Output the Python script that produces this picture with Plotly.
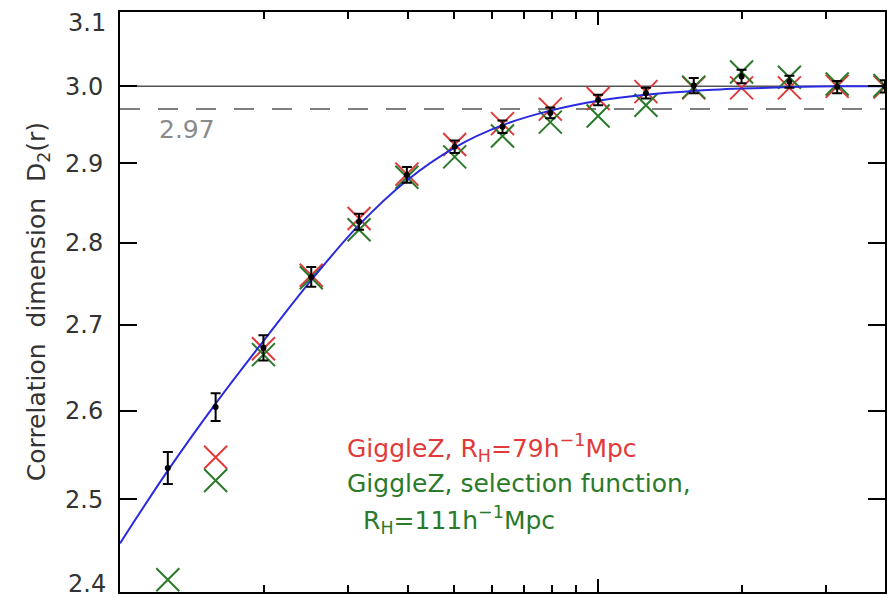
import plotly.graph_objects as go

# ---- data ----
log_r_points = [1.1, 1.2, 1.3, 1.4, 1.5, 1.6, 1.7, 1.8, 1.9, 2.0, 2.1, 2.2, 2.3, 2.4, 2.5, 2.6]
r_points = [10 ** v for v in log_r_points]

d2_data = [2.535, 2.604, 2.673, 2.758, 2.826, 2.885, 2.921, 2.947, 2.965, 2.982,
           2.991, 3.001, 3.013, 3.006, 2.999, 3.000]
d2_err = [0.018, 0.016, 0.015, 0.012, 0.010, 0.010, 0.008, 0.008, 0.007, 0.007,
          0.007, 0.010, 0.009, 0.008, 0.008, 0.008]

r_red = r_points[1:]
d2_red = [2.547, 2.672, 2.760, 2.830, 2.886, 2.924, 2.951, 2.970, 2.984, 2.993,
          2.998, 2.998, 2.998, 3.000, 2.999]

d2_green = [2.413, 2.521, 2.665, 2.757, 2.816, 2.882, 2.908, 2.935, 2.953, 2.961,
            2.975, 2.999, 3.019, 3.012, 3.003, 3.001]

log_r_fit = [1.0, 1.1, 1.2, 1.3, 1.4, 1.5, 1.6, 1.7, 1.8, 1.9, 2.0, 2.1, 2.2, 2.3, 2.4, 2.5, 2.6]
d2_fit = [2.452, 2.532, 2.608, 2.681, 2.754, 2.822, 2.878, 2.920, 2.949, 2.968,
          2.981, 2.989, 2.994, 2.997, 2.999, 3.000, 3.000]
r_fit = [10 ** v for v in log_r_fit]

y_tick_vals = [2.5, 2.6, 2.7, 2.8, 2.9, 3.0]
y_tick_text = ["2.5", "2.6", "2.7", "2.8", "2.9", "3.0"]
y_edge_vals = [2.4, 3.1]
y_edge_text = ["2.4", "3.1"]
x_major_ticks = [10, 100]
x_minor_ticks = [20, 30, 40, 50, 60, 70, 80, 90, 200, 300]

homogeneity_level = 2.97
uniform_level = 3.0

FONT = "DejaVu Sans"
RED = "#e03a3a"
GREEN = "#2a7a2a"
TXT = "#333333"

fig = go.Figure()

# reference lines
fig.add_trace(go.Scatter(x=[10, 10 ** 2.6], y=[uniform_level, uniform_level], mode="lines",
                         line=dict(color="#555555", width=1.5), showlegend=False, hoverinfo="skip"))
fig.add_trace(go.Scatter(x=[10, 10 ** 2.6], y=[homogeneity_level, homogeneity_level], mode="lines",
                         line=dict(color="#555555", width=1.5, dash="20px,18px"),
                         showlegend=False, hoverinfo="skip"))

fig.add_trace(go.Scatter(x=r_red, y=d2_red, mode="markers",
                         marker=dict(symbol="x-thin", size=23, line=dict(color=RED, width=2)),
                         showlegend=False, cliponaxis=False))
fig.add_trace(go.Scatter(x=r_points, y=d2_green, mode="markers",
                         marker=dict(symbol="x-thin", size=23, line=dict(color=GREEN, width=2)),
                         showlegend=False, cliponaxis=False))
fig.add_trace(go.Scatter(x=r_fit, y=d2_fit, mode="lines", line=dict(color="#2a2ae0", width=2, shape="spline"),
                         showlegend=False))
fig.add_trace(go.Scatter(x=r_points, y=d2_data, mode="markers",
                         marker=dict(symbol="circle", size=6, color="black"),
                         error_y=dict(type="data", array=d2_err, visible=True, color="black",
                                      thickness=2, width=5),
                         showlegend=False))

W, H = 887, 598
L, R, T, B = 120, 0, 12, 6
pw, ph = W - L - R, H - T - B

def px(xp):
    return (xp - L) / pw

def py(yp):
    return (H - B - yp) / ph

ann = [
    dict(text="2.97", x=px(157), y=py(130), xanchor="left", yanchor="middle",
         font=dict(color="#8a8a8a", size=25, family=FONT)),
    dict(text="GiggleZ, R<sub>H</sub>=79h<sup>−1</sup>Mpc", x=px(346), y=py(448),
         xanchor="left", yanchor="middle", font=dict(color=RED, size=25, family=FONT)),
    dict(text="GiggleZ, selection function,", x=px(346), y=py(483),
         xanchor="left", yanchor="middle", font=dict(color=GREEN, size=25, family=FONT)),
    dict(text="R<sub>H</sub>=111h<sup>−1</sup>Mpc", x=px(362), y=py(520),
         xanchor="left", yanchor="middle", font=dict(color=GREEN, size=25, family=FONT)),
    dict(text="Correlation  dimension  D<sub>2</sub>(r)", x=px(38), y=py(302), textangle=-90,
         xanchor="center", yanchor="middle", font=dict(color=TXT, size=25, family=FONT)),
    # edge tick labels (sit slightly inside the frame in the reference)
    dict(text=y_edge_text[1], x=px(108), y=py(23), xanchor="right", yanchor="middle",
         font=dict(color=TXT, size=24, family=FONT)),
    dict(text=y_edge_text[0], x=px(108), y=py(584), xanchor="right", yanchor="middle",
         font=dict(color=TXT, size=24, family=FONT)),
]
for a in ann:
    a.update(xref="paper", yref="paper", showarrow=False)

fig.update_layout(
    width=W, height=H,
    margin=dict(l=L, r=R, t=T, b=B, pad=0),
    paper_bgcolor="white", plot_bgcolor="white",
    font=dict(family=FONT, size=24, color=TXT),
    annotations=ann,
    xaxis=dict(type="log", range=[1.0, 2.6], showgrid=False, zeroline=False,
               showline=True, linecolor="black", linewidth=2, mirror="allticks",
               ticks="inside", tickvals=x_major_ticks, ticklen=13, tickwidth=2, tickcolor="black",
               showticklabels=False,
               minor=dict(tickvals=x_minor_ticks, ticks="inside", ticklen=7, tickwidth=2,
                          tickcolor="black", showgrid=False)),
    yaxis=dict(type="log", range=[0.38020, 0.49137], showgrid=False, zeroline=False,
               showline=True, linecolor="black", linewidth=2, mirror="allticks",
               ticks="inside", tickvals=y_tick_vals, ticktext=y_tick_text, ticklen=17,
               tickwidth=2, tickcolor="black", ticklabelstandoff=10,
               tickfont=dict(size=24, color=TXT, family=FONT),
               minor=dict(tickvals=y_edge_vals, ticks="inside", ticklen=17, tickwidth=2,
                          tickcolor="black", showgrid=False)),
)

fig.write_html("out.html", config={"displayModeBar": False},
               post_script="document.body.style.margin='0';")
